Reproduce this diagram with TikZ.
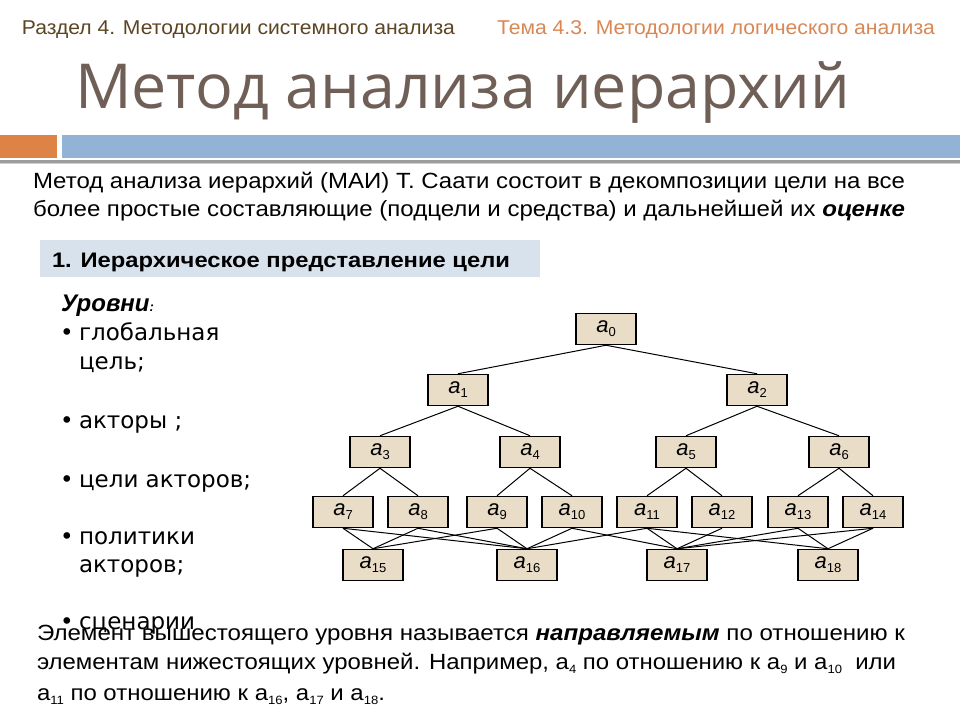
\documentclass[tikz,border=0pt]{standalone}
\usepackage{fontspec}
\setmainfont{Liberation Sans}
\newfontfamily\verd{DejaVu Sans}
\newfontfamily\ttlfont{Open Sans}
\definecolor{hdrleft}{HTML}{5C4522}
\definecolor{hdrright}{HTML}{D98755}
\definecolor{ttlcol}{HTML}{6F5F57}
\definecolor{orangebar}{HTML}{DE8346}
\definecolor{bluebar}{HTML}{93B3D6}
\definecolor{greyline}{HTML}{9C9C9C}
\definecolor{secfill}{HTML}{D7E2ED}
\definecolor{boxfill}{HTML}{EADDC8}
\newcommand\fitw[2]{\resizebox{#1}{\height}{#2}}
\newcommand\lab[1]{\textit{a}\raisebox{-4pt}{\fontsize{13}{13}\selectfont #1}}
\newcommand\subx[1]{\raisebox{-4pt}{\fontsize{12}{12}\selectfont #1}}
\tikzset{
  box/.style={draw=black, line width=1.5pt, fill=boxfill, minimum width=60pt, minimum height=31pt, inner sep=0pt, font=\fontsize{22}{22}\selectfont},
  link/.style={draw=black, line width=1pt},
  txt/.style={anchor=base west, inner sep=0pt, outer sep=0pt},
  lst/.style={txt, font=\verd\fontsize{23}{23}\selectfont, text=black}
}
\begin{document}
\begin{tikzpicture}[x=1pt,y=-1pt]
\useasboundingbox (0,0) rectangle (960,720);
\fill[white] (0,0) rectangle (960,720);
% header
\node[txt, text=hdrleft] (hl) at (22,34) {\fitw{433pt}{\fontsize{20}{20}\selectfont Раздел 4. Методологии системного анализа}};
\node[txt, text=hdrright] (hr) at (497,34) {\fitw{438pt}{\fontsize{20}{20}\selectfont Тема 4.3. Методологии логического анализа}};
% title
\node[txt, text=ttlcol] (ttl) at (75,108) {\fitw{775pt}{\ttlfont\fontsize{62}{62}\selectfont Метод анализа иерархий}};
% bars
\fill[orangebar] (0,135) rectangle (57,158);
\fill[bluebar] (62,135) rectangle (960,158);
\fill[greyline] (0,159.5) rectangle (960,162.5);
\fill[greyline!50] (0,162.5) rectangle (960,164);
% body text
\node[txt] (b1) at (33,188) {\fitw{872pt}{\fontsize{22}{22}\selectfont Метод анализа иерархий (МАИ) Т. Саати состоит в декомпозиции цели на все}};
\node[txt] (b2) at (33,216) {\fitw{872pt}{\fontsize{22}{22}\selectfont более простые составляющие (подцели и средства) и дальнейшей их \textbf{\textit{оценке}}}};
% section box
\fill[secfill] (40,240) rectangle (540,277);
\node[txt] (sec) at (52,267) {\fitw{458pt}{\fontsize{21}{21}\selectfont\bfseries 1. Иерархическое представление цели}};
% levels
\node[txt] (lev) at (61,311) {\fontsize{24}{24}\selectfont\bfseries\itshape Уровни\fontsize{13}{13}\selectfont :};
\node[lst] (l1b) at (60,340) {•};
\node[lst] (l1) at (79,340) {глобальная};
\node[lst] (l1c) at (79,369) {цель;};
\node[lst] (l2b) at (60,428) {•};
\node[lst] (l2) at (79,428) {акторы ;};
\node[lst] (l3b) at (60,487) {•};
\node[lst] (l3) at (79,487) {цели акторов;};
\node[lst] (l4b) at (60,544) {•};
\node[lst] (l4) at (79,544) {политики};
\node[lst] (l4c) at (79,572) {акторов;};
\node[lst] (l5b) at (60,629) {•};
\node[lst] (l5) at (79,629) {сценарии};
% bottom text
\node[txt] (t1) at (37,640) {\fitw{868pt}{\fontsize{22}{22}\selectfont Элемент вышестоящего уровня называется \textbf{\textit{направляемым}} по отношению к}};
\node[txt] (t2) at (37,669) {\fitw{859pt}{\fontsize{22}{22}\selectfont элементам нижестоящих уровней. Например, а\subx{4} по отношению к а\subx{9} и а\subx{10}\ \ или}};
\node[txt] (t3) at (37,700) {\fitw{348pt}{\fontsize{22}{22}\selectfont а\subx{11} по отношению к а\subx{16}, а\subx{17} и а\subx{18}.}};
% tree
\node[box] (a0) at (606,329) {\lab{0}};
\node[box] (a1) at (458,390) {\lab{1}};
\node[box] (a2) at (757,390) {\lab{2}};
\node[box] (a3) at (380,452) {\lab{3}};
\node[box] (a4) at (530,452) {\lab{4}};
\node[box] (a5) at (686,452) {\lab{5}};
\node[box] (a6) at (839,452) {\lab{6}};
\node[box] (a7) at (343,512) {\lab{7}};
\node[box] (a8) at (418,512) {\lab{8}};
\node[box] (a9) at (497,512) {\lab{9}};
\node[box] (a10) at (572,512) {\lab{10}};
\node[box] (a11) at (647,512) {\lab{11}};
\node[box] (a12) at (722,512) {\lab{12}};
\node[box] (a13) at (798,512) {\lab{13}};
\node[box] (a14) at (873,512) {\lab{14}};
\node[box] (a15) at (373,565) {\lab{15}};
\node[box] (a16) at (527,565) {\lab{16}};
\node[box] (a17) at (677,565) {\lab{17}};
\node[box] (a18) at (828,565) {\lab{18}};
\foreach \p/\c in {a0/a1,a0/a2,a1/a3,a1/a4,a2/a5,a2/a6,a3/a7,a3/a8,a4/a9,a4/a10,a5/a11,a5/a12,a6/a13,a6/a14,
  a7/a15,a7/a16,a8/a15,a8/a16,a9/a15,a9/a16,a10/a16,a10/a17,a11/a16,a11/a17,a11/a18,a12/a17,a13/a17,a13/a18,a14/a17,a14/a18}
  \draw[link] (\p.south) -- (\c.north);
\end{tikzpicture}
\end{document}
